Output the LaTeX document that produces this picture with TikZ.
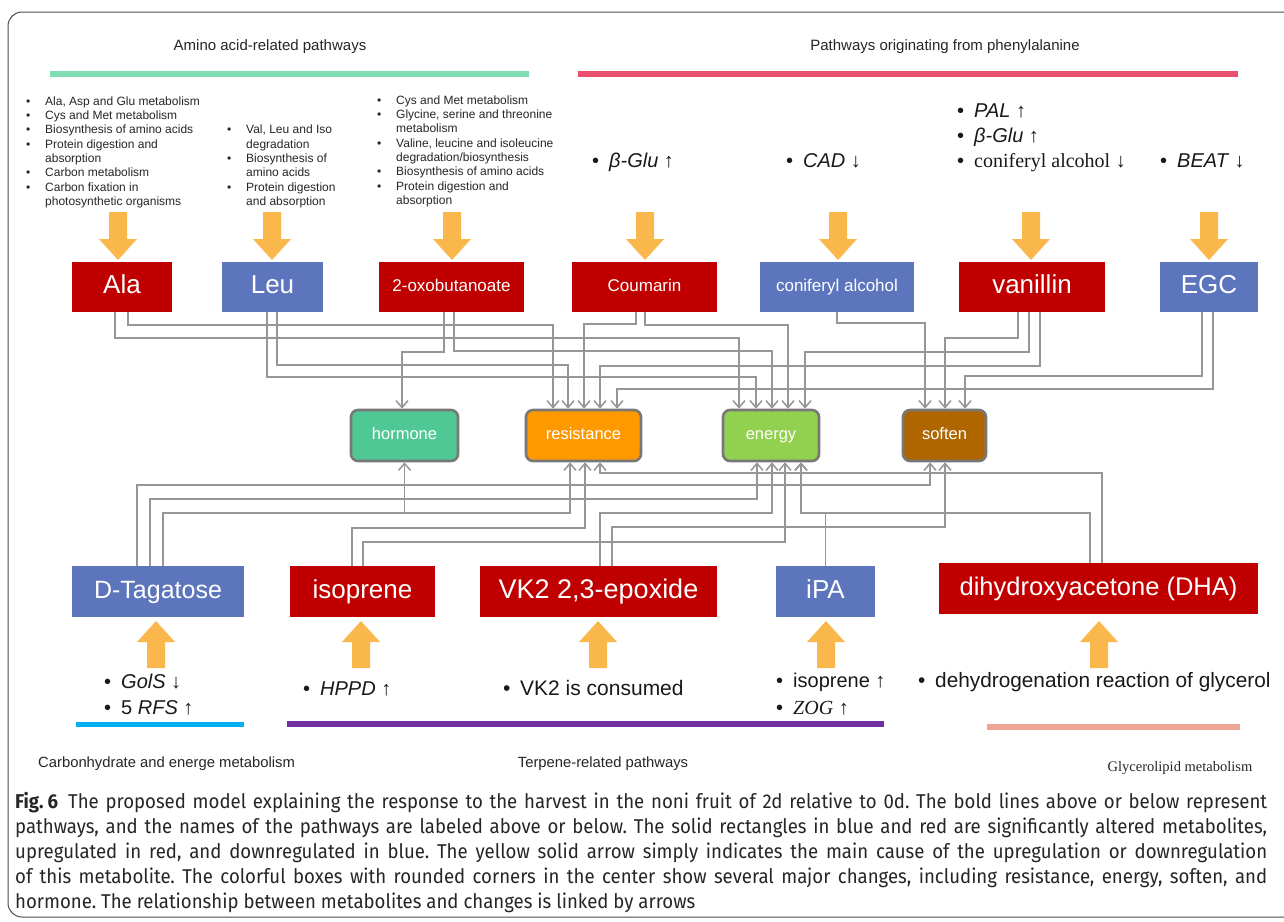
\documentclass[tikz,border=0pt]{standalone}
\usepackage{fontspec}
\setmainfont{Liberation Sans}
\newfontfamily\serifface{Liberation Serif}
\newfontfamily\capfont[FakeStretch=0.93]{Fira Sans}
\usetikzlibrary{arrows.meta}
\frenchspacing
\newcommand{\pxs}[1]{\fontsize{#1}{#1}\selectfont}
\newcommand{\blt}{\makebox[19pt][l]{•}}
\newcommand{\cnt}{\hspace*{19pt}}
\newcommand{\ibl}{\makebox[17pt][l]{•}}
\newcommand{\upar}{{\serifface ↑}}
\newcommand{\dnar}{{\serifface ↓}}
\definecolor{upred}{RGB}{192,0,0}
\definecolor{downblue}{RGB}{92,117,189}
\definecolor{hormoneg}{RGB}{80,200,150}
\definecolor{resorange}{RGB}{255,153,0}
\definecolor{energyg}{RGB}{146,208,80}
\definecolor{softenb}{RGB}{175,102,0}
\definecolor{framegray}{RGB}{120,120,120}
\definecolor{linkgray}{RGB}{150,150,150}
\definecolor{causey}{RGB}{250,183,76}
\definecolor{aaline}{RGB}{128,221,178}
\definecolor{pheline}{RGB}{232,80,110}
\definecolor{carbline}{RGB}{0,176,240}
\definecolor{terpline}{RGB}{112,48,160}
\definecolor{glyline}{RGB}{240,164,150}
\begin{document}
\begin{tikzpicture}[x=1pt,y=-1pt,
  every node/.style={inner sep=0pt},
  upbox/.style={fill=upred,text=white,minimum height=50pt},
  downbox/.style={fill=downblue,text=white,minimum height=50pt},
  lbig/.style={font=\pxs{26},text height=18.7pt,text depth=5pt},
  lmid/.style={font=\pxs{17},text height=12.2pt,text depth=3.4pt},
  change/.style={draw=framegray,line width=2.6pt,rounded corners=7pt,text=white,minimum height=51pt,
    font=\pxs{16.5},text height=11.9pt,text depth=3.3pt},
  link/.style={draw=linkgray,line width=1.5pt,-{Straight Barb[length=7pt,width=12pt]}},
  cause/.style={fill=causey},
  pathbar/.style={line width=6pt},
  hdr/.style={font=\pxs{15},text=black!85},
  lst/.style={anchor=north west,align=left,font=\fontsize{12}{14.3}\selectfont,text=black!85},
  effitem/.style={anchor=base west,font=\pxs{20},text=black!90},
  captxt/.style={anchor=base west,font=\capfont\pxs{20},text=black!85},
]
\useasboundingbox (0,0) rectangle (1284,921);
\fill[white] (0,0) rectangle (1284,921);
\clip (0,0) rectangle (1284,921);
\draw[black!70,line width=1pt,rounded corners=14pt] (8,12) rectangle (1310,917);

% pathway headers and bars
\node[hdr] (aahdr) at (270,47) {Amino acid-related pathways};
\node[hdr] (phehdr) at (945,47) {Pathways originating from phenylalanine};
\draw[pathbar,aaline] (50,74) -- (529,74);
\draw[pathbar,pheline] (578,74) -- (1238,74);

% amino acid pathway lists
\node[lst] (aalistA) at (26,95) {\begin{tabular}{@{}l@{}}
\blt Ala, Asp and Glu metabolism\\
\blt Cys and Met metabolism\\
\blt Biosynthesis of amino acids\\
\blt Protein digestion and\\
\cnt absorption\\
\blt Carbon metabolism\\
\blt Carbon fixation in\\
\cnt photosynthetic organisms
\end{tabular}};
\node[lst] (aalistB) at (227,123.6) {\begin{tabular}{@{}l@{}}
\blt Val, Leu and Iso\\
\cnt degradation\\
\blt Biosynthesis of\\
\cnt amino acids\\
\blt Protein digestion\\
\cnt and absorption
\end{tabular}};
\node[lst] (aalistC) at (377,94) {\begin{tabular}{@{}l@{}}
\blt Cys and Met metabolism\\
\blt Glycine, serine and threonine\\
\cnt metabolism\\
\blt Valine, leucine and isoleucine\\
\cnt degradation/biosynthesis\\
\blt Biosynthesis of amino acids\\
\blt Protein digestion and\\
\cnt absorption
\end{tabular}};

% phenylalanine-side causes
\node[effitem] (gluA) at (592,167) {\ibl\textit{β-Glu} \upar};
\node[effitem] (cad) at (786,167) {\ibl\textit{CAD} \dnar};
\node[effitem] (pal) at (957,117) {\ibl\textit{PAL} \upar};
\node[effitem] (gluB) at (957,142) {\ibl\textit{β-Glu} \upar};
\node[effitem] (conf) at (957,167) {\ibl{\serifface coniferyl alcohol} \dnar};
\node[effitem] (beat) at (1160,167) {\ibl\textit{BEAT} \dnar};

% cause arrows pointing down to the metabolites
\foreach \x in {118,272,452,645,838,1031,1209}
  \fill[cause] (\x-9,212) -- (\x+9,212) -- (\x+9,239) -- (\x+19,239) -- (\x,260) -- (\x-19,239) -- (\x-9,239) -- cycle;

% upper metabolites
\node[upbox,lbig,minimum width=100pt] (ala) at (122,287) {Ala};
\node[downbox,lbig,minimum width=101pt] (leu) at (272.5,287) {Leu};
\node[upbox,lmid,minimum width=145pt] (oxo) at (451.5,287) {2-oxobutanoate};
\node[upbox,lmid,minimum width=145pt] (cou) at (644.5,287) {Coumarin};
\node[downbox,lmid,minimum width=154pt] (con) at (837,287) {coniferyl alcohol};
\node[upbox,lbig,minimum width=146pt] (van) at (1032,287) {vanillin};
\node[downbox,lbig,minimum width=98pt] (egc) at (1209,287) {EGC};

% major changes
\node[change,fill=hormoneg,minimum width=107pt] (hor) at (404.5,435.5) {hormone};
\node[change,fill=resorange,minimum width=115pt] (res) at (583.5,435.5) {resistance};
\node[change,fill=energyg,minimum width=96pt] (ene) at (771,435.5) {energy};
\node[change,fill=softenb,minimum width=83pt] (sof) at (944.5,435.5) {soften};

% lower metabolites
\node[downbox,lbig,font=\pxs{25},minimum width=172pt,minimum height=51pt] (tag) at (158,591.5) {D-Tagatose};
\node[upbox,lbig,minimum width=145pt,minimum height=51pt] (iso) at (362.5,591.5) {isoprene};
\node[upbox,lbig,font=\pxs{27},minimum width=237pt,minimum height=51pt] (vk) at (598.5,591.5) {VK2 2,3-epoxide};
\node[downbox,lbig,minimum width=99pt,minimum height=51pt] (ipa) at (825.5,591.5) {iPA};
\node[upbox,lbig,font=\pxs{25.5},minimum width=319pt,minimum height=51pt] (dha) at (1098.5,588.5) {dihydroxyacetone (DHA)};

% links from upper metabolites
\draw[link] ([xshift=-7pt]ala.south) -- ++(0,26) -| ([xshift=-32pt]ene.north);
\draw[link] ([xshift=6pt]ala.south) -- ++(0,13) -| ([xshift=-30.5pt]res.north);
\draw[link] ([xshift=-5.5pt]leu.south) -- ++(0,65) -| ([xshift=-15pt]ene.north);
\draw[link] ([xshift=4.5pt]leu.south) -- ++(0,53) -| ([xshift=-15.5pt]res.north);
\draw[link] ([xshift=-7.5pt]oxo.south) -- ++(0,40) -| ([xshift=-2.5pt]hor.north);
\draw[link] ([xshift=2.5pt]oxo.south) -- ++(0,39) -| ([xshift=1pt]ene.north);
\draw[link] ([xshift=-8.5pt]cou.south) -- ++(0,12) -| ([xshift=0.5pt]res.north);
\draw[link] ([xshift=0.5pt]cou.south) -- ++(0,13) -| ([xshift=17pt]ene.north);
\draw[link] (con.south) -- ++(0,11) -| ([xshift=-19.5pt]sof.north);
\draw[link] ([xshift=-14pt]van.south) -- ++(0,26) -| ([xshift=0.5pt]sof.north);
\draw[link] ([xshift=-3pt]van.south) -- ++(0,40) -| ([xshift=34pt]ene.north);
\draw[link] ([xshift=8pt]van.south) -- ++(0,54) -| ([xshift=16.5pt]res.north);
\draw[link] ([xshift=-7pt]egc.south) -- ++(0,64) -| ([xshift=20.5pt]sof.north);
\draw[link] ([xshift=4pt]egc.south) -- ++(0,77) -| ([xshift=33.5pt]res.north);

% links from lower metabolites
\draw[link] ([xshift=-21pt]tag.north) -- ++(0,-81) -| ([xshift=-14.5pt]sof.south);
\draw[link] ([xshift=-8pt]tag.north) -- ++(0,-67) -| ([xshift=-14pt]ene.south);
\draw[link] ([xshift=5pt]tag.north) -- ++(0,-53) -| ([xshift=-13.5pt]res.south);
\draw[link] ([xshift=5pt]tag.north) -- ++(0,-53) -| (hor.south);
\draw[link] ([xshift=-10.5pt]iso.north) -- ++(0,-38) -| ([xshift=1.5pt]res.south);
\draw[link] ([xshift=0.5pt]iso.north) -- ++(0,-24) -| ([xshift=14pt]ene.south);
\draw[link] ([xshift=1.5pt]vk.north) -- ++(0,-53) -| ([xshift=1pt]ene.south);
\draw[link] ([xshift=13.5pt]vk.north) -- ++(0,-39) -| ([xshift=0.5pt]sof.south);
\draw[link] (ipa.north) -- ++(0,-53) -| ([xshift=30pt]ene.south);
\draw[link] ([xshift=3.5pt]dha.north) -- ++(0,-90) -| ([xshift=16.5pt]res.south);
\draw[link] ([xshift=-8.5pt]dha.north) -- ++(0,-50) -| ([xshift=30pt]ene.south);

% cause arrows pointing up to the metabolites
\foreach \x in {156,361,598,826,1099}
  \fill[cause] (\x-9,668) -- (\x+9,668) -- (\x+9,642) -- (\x+19,642) -- (\x,621) -- (\x-19,642) -- (\x-9,642) -- cycle;

% lower causes
\node[effitem] (gols) at (104,688) {\ibl\textit{GolS} \dnar};
\node[effitem] (rfs) at (104,714) {\ibl 5 \textit{RFS} \upar};
\node[effitem] (hppd) at (303,695) {\ibl\textit{HPPD} \upar};
\node[effitem,font=\pxs{21}] (vkc) at (503,695) {\ibl VK2 is consumed};
\node[effitem] (isoup) at (776,687) {\ibl isoprene \upar};
\node[effitem] (zog) at (776,714) {\ibl{\serifface\itshape ZOG} \upar};
\node[effitem,font=\pxs{20.8}] (glyc) at (918,687) {\ibl dehydrogenation reaction of glycerol};

% lower pathway bars and names
\draw[line width=5pt,carbline] (76,724) -- (244,724);
\draw[pathbar,terpline] (287,724) -- (884,724);
\draw[pathbar,glyline] (987,727) -- (1240,727);
\node[hdr,anchor=base west,font=\pxs{14.8}] (carbname) at (38,767) {Carbonhydrate and energe metabolism};
\node[hdr,anchor=base,font=\pxs{14.8}] (terpname) at (603,767) {Terpene-related pathways};
\node[hdr,anchor=base,font=\serifface\pxs{14.5}] (glyname) at (1180,771) {Glycerolipid metabolism};

% caption
\node[captxt] (cap1) at (15,808) {\makebox[1252pt][s]{\textbf{Fig.\hspace{4pt}6}\hspace{10pt}The proposed model explaining the response to the harvest in the noni fruit of 2d relative to 0d. The bold lines above or below represent}};
\node[captxt] (cap2) at (15,833) {\makebox[1252pt][s]{pathways, and the names of the pathways are labeled above or below. The solid rectangles in blue and red are significantly altered metabolites,}};
\node[captxt] (cap3) at (15,858) {\makebox[1252pt][s]{upregulated in red, and downregulated in blue. The yellow solid arrow simply indicates the main cause of the upregulation or downregulation}};
\node[captxt] (cap4) at (15,883) {\makebox[1252pt][s]{of this metabolite. The colorful boxes with rounded corners in the center show several major changes, including resistance, energy, soften, and}};
\node[captxt] (cap5) at (15,908) {hormone. The relationship between metabolites and changes is linked by arrows};
\end{tikzpicture}
\end{document}
